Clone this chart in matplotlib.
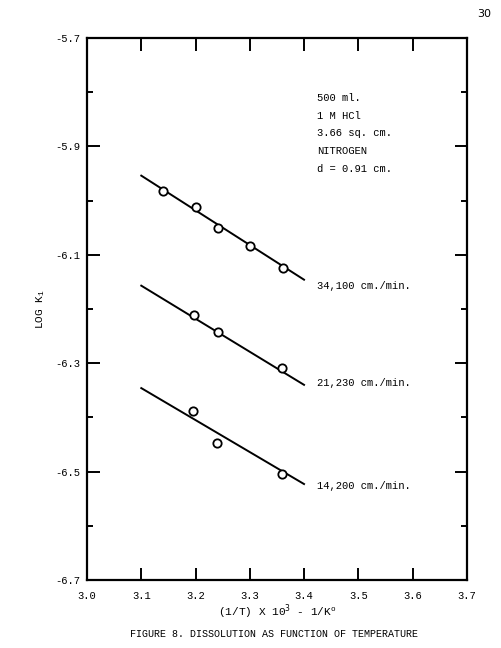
import matplotlib.pyplot as plt

# Datos
x_34100 = [3.140, 3.201, 3.242, 3.300, 3.362]
y_34100 = [-5.983, -6.011, -6.051, -6.084, -6.125]
x_21230 = [3.198, 3.242, 3.360]
y_21230 = [-6.212, -6.242, -6.308]
x_14200 = [3.196, 3.240, 3.359]
y_14200 = [-6.388, -6.447, -6.504]

# Rectas ajustadas (extremos)
fit_x = [3.1, 3.4]
fit_34100 = [-5.954, -6.146]
fit_21230 = [-6.157, -6.340]
fit_14200 = [-6.346, -6.523]

series_labels = ["34,100 cm./min.", "21,230 cm./min.", "14,200 cm./min."]
conditions = ["500 ml.", "1 M HCl", "3.66 sq. cm.", "NITROGEN", "d = 0.91 cm."]

x_ticks = [3.0, 3.1, 3.2, 3.3, 3.4, 3.5, 3.6, 3.7]
y_major = [-6.7, -6.5, -6.3, -6.1, -5.9, -5.7]
y_minor = [-6.6, -6.4, -6.2, -6.0, -5.8]

font = 'Liberation Mono'
plt.rcParams['font.family'] = [font, 'DejaVu Sans']
fs = 7.6

fig = plt.figure(figsize=(5.01, 6.48), dpi=100)
ax = fig.add_axes([0.1737, 0.105, 0.758, 0.8364])

series = [
    (x_34100, y_34100, fit_34100),
    (x_21230, y_21230, fit_21230),
    (x_14200, y_14200, fit_14200),
]
for xs, ys, fit in series:
    ax.plot(fit_x, fit, color='black', linewidth=1.4, zorder=1)
    ax.plot(xs, ys, linestyle='none', marker='o', markersize=6,
            markerfacecolor='white', markeredgecolor='black',
            markeredgewidth=1.3, zorder=2)

ax.set_xlim(3.0, 3.7)
ax.set_ylim(-6.7, -5.7)
ax.set_xticks(x_ticks)
ax.set_xticklabels([f"{v:.1f}" for v in x_ticks])
ax.set_yticks(y_major)
ax.set_yticklabels([f"{v:.1f}" for v in y_major])
ax.set_yticks(y_minor, minor=True)

ax.tick_params(axis='both', which='major', direction='in', length=9, width=1.4,
               top=True, right=True, labelsize=fs)
ax.tick_params(axis='y', which='minor', direction='in', length=4, width=1.4,
               left=True, right=True)
ax.tick_params(axis='x', which='major', pad=8)
ax.tick_params(axis='y', which='major', pad=5)
for spine in ax.spines.values():
    spine.set_linewidth(1.6)

# Texto de condiciones
for i, line in enumerate(conditions):
    ax.text(0.606, 0.889 - i * 0.0325, line, transform=ax.transAxes,
            fontsize=fs, va='center', ha='left')

# Etiquetas de series
label_y = [0.543, 0.364, 0.174]
for lab, yy in zip(series_labels, label_y):
    ax.text(0.606, yy, lab, transform=ax.transAxes, fontsize=fs,
            va='center', ha='left')

ax.set_xlabel(r"(1/T) X 10$^3$ - 1/K$^\mathregular{o}$", fontsize=fs + 0.4,
              labelpad=1)
ax.set_ylabel(r"LOG K$_\mathregular{1}$", fontsize=fs + 0.4, labelpad=6)

fig.text(0.547, 0.022, "FIGURE 8. DISSOLUTION AS FUNCTION OF TEMPERATURE",
         ha='center', va='center', fontsize=7.2)
fig.text(0.967, 0.979, "30", ha='center', va='center', fontsize=8,
         family='DejaVu Sans')

fig.savefig('out.png', dpi=100)
